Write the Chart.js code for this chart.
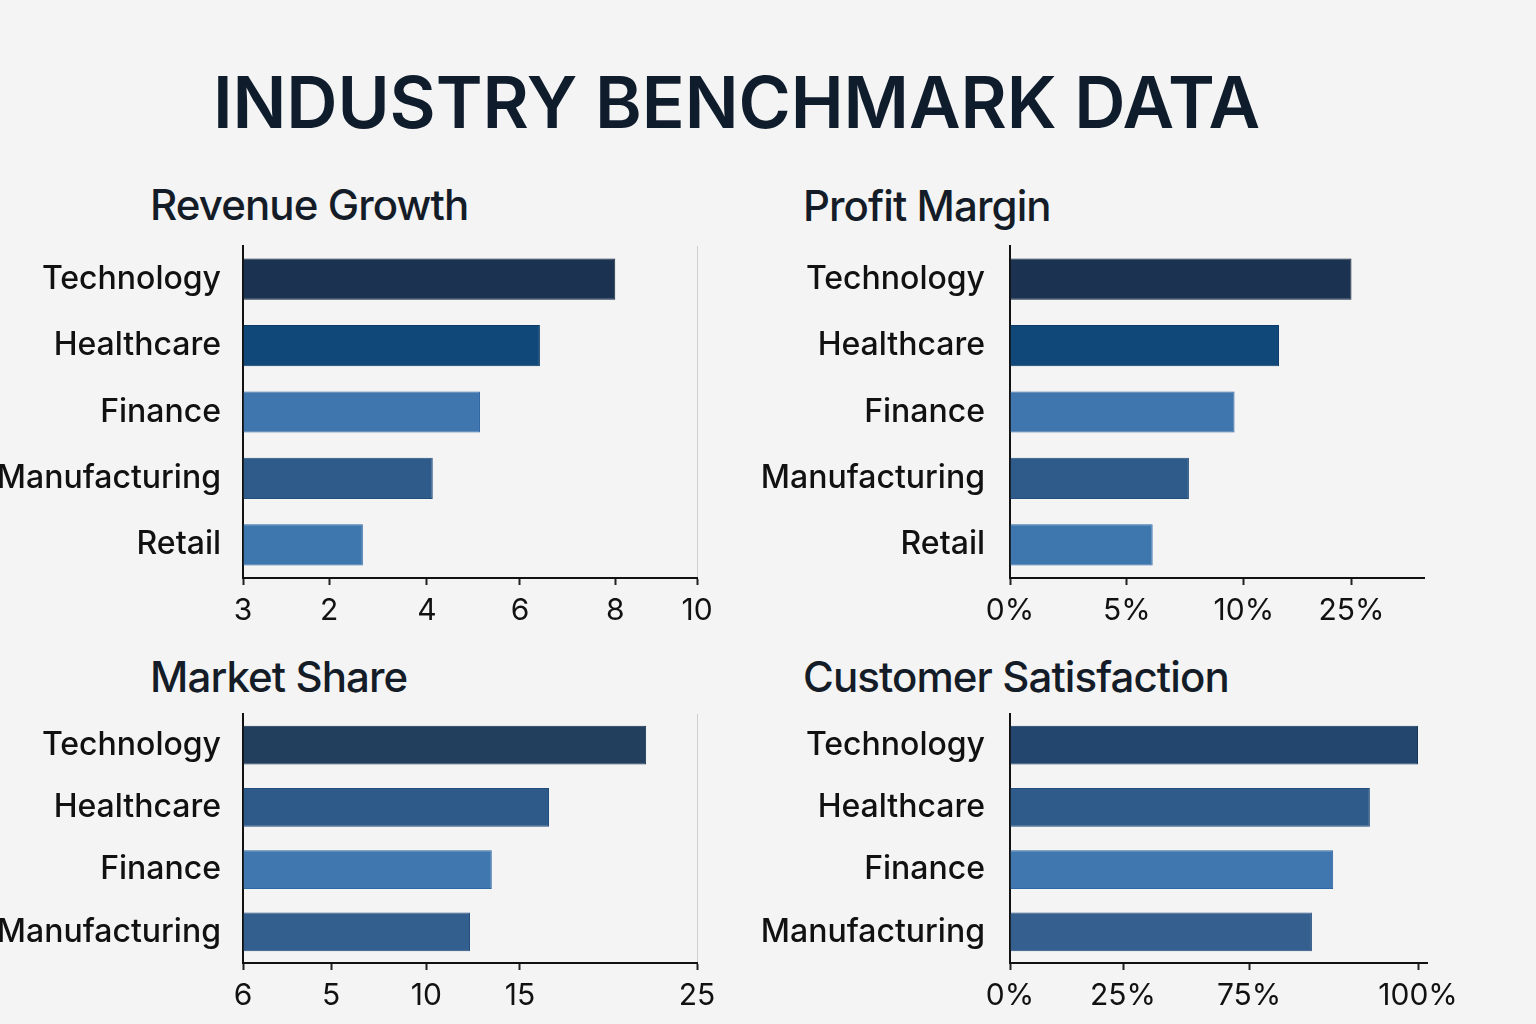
<!DOCTYPE html>
<html lang="en">
<head>
    <meta charset="UTF-8">
    <title>Industry Benchmark Data</title>
    <style>
        html, body {
            margin: 0;
            padding: 0;
        }

        body {
            width: 1536px;
            height: 1024px;
            background: #f4f4f4;
            position: relative;
            overflow: hidden;
            font-family: Inter, "Noto Sans", sans-serif;
        }

        .main-title {
            position: absolute;
            left: 0;
            width: 1473px;
            top: 67px;
            text-align: center;
            font-size: 71px;
            line-height: 71px;
            font-weight: 600;
            letter-spacing: -0.1px;
            color: #0f1c2c;
        }

        .panel-title {
            position: absolute;
            font-size: 42px;
            line-height: 42px;
            font-weight: 500;
            letter-spacing: -0.9px;
            color: #141c28;
        }

        canvas {
            position: absolute;
        }
    </style>
</head>
<body>
    <div class="main-title">INDUSTRY BENCHMARK DATA</div>

    <div class="panel-title" style="left:150px; top:184px;">Revenue Growth</div>
    <div class="panel-title" style="left:803px; top:185px;">Profit Margin</div>
    <div class="panel-title" style="left:150px; top:656px;">Market Share</div>
    <div class="panel-title" style="left:803px; top:656px;">Customer Satisfaction</div>

    <canvas id="revenueChart" width="730" height="405" style="left:0; top:235px;"></canvas>
    <canvas id="profitChart" width="786" height="405" style="left:750px; top:235px;"></canvas>
    <canvas id="marketChart" width="730" height="324" style="left:0; top:700px;"></canvas>
    <canvas id="satisfactionChart" width="786" height="324" style="left:750px; top:700px;"></canvas>

    <script src="https://cdn.jsdelivr.net/npm/chart.js"></script>
    <script>
        // categories
        const sectorsTop = ['Technology', 'Healthcare', 'Finance', 'Manufacturing', 'Retail'];
        const sectorsBottom = ['Technology', 'Healthcare', 'Finance', 'Manufacturing'];

        // Revenue Growth
        const revenueGrowth = [8.2, 6.54, 5.22, 4.18, 2.64];
        const revenueTickValues = [0, 1.9, 4.05, 6.1, 8.2, 10];
        const revenueTickLabels = ['3', '2', '4', '6', '8', '10'];

        // Profit Margin
        const profitMargin = [14.6, 11.5, 9.6, 7.65, 6.1];
        const profitTickValues = [0, 5, 10, 14.6];
        const profitTickLabels = ['0%', '5%', '10%', '25%'];

        // Market Share
        const marketShare = [22.2, 16.85, 13.7, 12.5];
        const marketTickValues = [0, 4.85, 10.1, 15.25, 25];
        const marketTickLabels = ['6', '5', '10', '15', '25'];

        // Customer Satisfaction
        const satisfaction = [100, 88.2, 79.2, 74];
        const satisfactionTickValues = [0, 27.7, 58.6, 100];
        const satisfactionTickLabels = ['0%', '25%', '75%', '100%'];

        // bar colours
        const topColors = ['#1b3350', '#11487a', '#3f76ae', '#2f5b8a', '#3e77ae'];
        const topBorders = ['#0f2238', '#0b3a66', '#2f66a2', '#234d7b', '#2c66a6'];
        const marketColors = ['#223f5e', '#2e5a8a', '#3f77ae', '#335f8f'];
        const marketBorders = ['#15304d', '#224c7b', '#2f67a3', '#264f7f'];
        const satisfactionColors = ['#23466e', '#2e5b8a', '#3f77ae', '#345f8f'];
        const satisfactionBorders = ['#17375c', '#224c7b', '#2f67a3', '#264f7f'];

        function makeChart(id, labels, values, colors, borders, tickValues, tickLabels, maxValue, yWidth, labelGap, xHeight, padding, endLine) {
            return new Chart(document.getElementById(id), {
                type: 'bar',
                data: {
                    labels: labels,
                    datasets: [{
                        data: values,
                        backgroundColor: colors,
                        borderColor: borders,
                        borderWidth: 1,
                        barPercentage: 0.62,
                        categoryPercentage: 1
                    }]
                },
                options: {
                    indexAxis: 'y',
                    responsive: false,
                    animation: false,
                    layout: { padding: padding },
                    plugins: {
                        legend: { display: false },
                        tooltip: { enabled: false }
                    },
                    scales: {
                        x: {
                            min: 0,
                            max: maxValue,
                            afterBuildTicks: function(axis) {
                                axis.ticks = tickValues.map(function(v) { return { value: v }; });
                            },
                            afterFit: function(axis) { axis.height = xHeight; },
                            ticks: {
                                autoSkip: false,
                                maxRotation: 0,
                                padding: 8,
                                color: '#111',
                                font: { family: 'Inter', size: 30 },
                                callback: function(value, index) { return tickLabels[index]; }
                            },
                            grid: {
                                drawOnChartArea: endLine,
                                color: function(ctx) {
                                    return ctx.index === tickValues.length - 1 ? '#cfcfcf' : 'rgba(0,0,0,0)';
                                },
                                tickColor: '#222',
                                tickLength: 7,
                                tickWidth: 2
                            },
                            border: { color: '#111', width: 2 }
                        },
                        y: {
                            afterFit: function(axis) {
                                axis.width = yWidth;
                                axis.paddingTop = 0;
                                axis.paddingBottom = 0;
                            },
                            ticks: {
                                padding: labelGap,
                                color: '#111',
                                font: { family: 'Inter', size: 32, weight: '500' }
                            },
                            grid: { display: false },
                            border: { color: '#111', width: 2 }
                        }
                    }
                }
            });
        }

        makeChart('revenueChart', sectorsTop, revenueGrowth, topColors, topBorders,
            revenueTickValues, revenueTickLabels, 10, 243, 14, 62, { top: 11, right: 33 }, true);
        makeChart('profitChart', sectorsTop, profitMargin, topColors, topBorders,
            profitTickValues, profitTickLabels, 17.7, 260, 17, 62, { top: 11, right: 112 }, false);
        makeChart('marketChart', sectorsBottom, marketShare, marketColors, marketBorders,
            marketTickValues, marketTickLabels, 25, 243, 14, 61, { top: 14, right: 33 }, true);
        makeChart('satisfactionChart', sectorsBottom, satisfaction, satisfactionColors, satisfactionBorders,
            satisfactionTickValues, satisfactionTickLabels, 102.2, 260, 17, 61, { top: 14, right: 109 }, false);
    </script>
</body>
</html>
